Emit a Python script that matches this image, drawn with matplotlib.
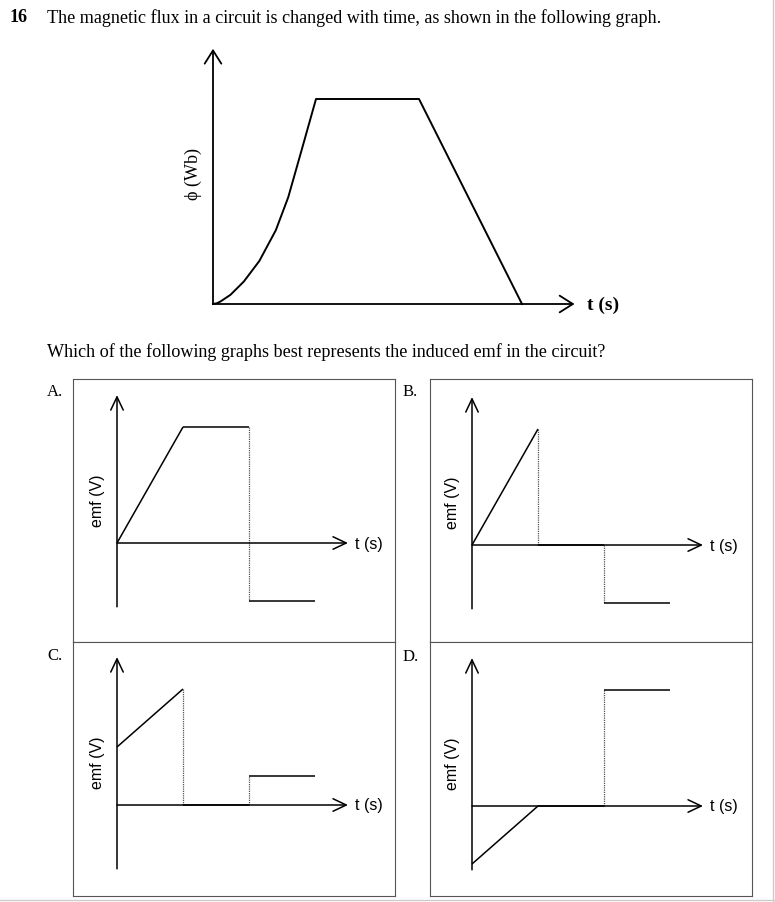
import matplotlib.pyplot as plt
from matplotlib.lines import Line2D

W, H = 775, 903

# flux curve (t in s, phi in units of the plateau)
flux_t = [0, 0.04, 0.075, 0.17, 0.30, 0.45, 0.61, 0.73, 0.86, 1.0, 2.0, 3.0]
flux_phi = [0, 0.004, 0.013, 0.045, 0.11, 0.21, 0.36, 0.52, 0.75, 1.0, 1.0, 0]

# emf options (vertical jumps are drawn dotted)
a_t = [0, 1, 2, 2, 3]
a_emf = [0, 2, 2, -1, -1]
b_t = [0, 1, 1, 2, 2, 3]
b_emf = [0, 2, 0, 0, -1, -1]
c_t = [0, 1, 1, 2, 2, 3]
c_emf = [1, 2, 0, 0, 0.5, 0.5]
d_t = [0, 1, 2, 2, 3]
d_emf = [-1, 0, 0, 2, 2]

option_labels = ['A.', 'B.', 'C.', 'D.']
option_data = [(a_t, a_emf), (b_t, b_emf), (c_t, c_emf), (d_t, d_emf)]

title_text = 'The magnetic flux in a circuit is changed with time, as shown in the following graph.'
question_text = 'Which of the following graphs best represents the induced emf in the circuit?'

# layout in pixels: box (left, top, right, bottom), origin, label position
boxes = [(73, 380, 395, 643), (430, 380, 752, 643), (73, 643, 395, 897), (430, 643, 752, 897)]
origins = [(117, 544), (472, 546), (117, 806), (472, 807)]
label_pos = [(47, 392), (403, 392), (47, 656), (403, 657)]
UNIT = (66, 58)

SERIF = ['Liberation Serif', 'DejaVu Serif']
SANS = ['Liberation Sans', 'DejaVu Sans']


def px_axes(fig, box, origin, unit):
    left, top, right, bottom = box
    ax = fig.add_axes([left / W, 1 - bottom / H, (right - left) / W, (bottom - top) / H])
    ox, oy = origin
    ux, uy = unit
    ax.set_xlim((left - ox) / ux, (right - ox) / ux)
    ax.set_ylim((oy - bottom) / uy, (oy - top) / uy)
    ax.set_xticks([])
    ax.set_yticks([])
    return ax


def arrow(ax, start, end, hl, hw, lw=1.1):
    ax.annotate('', xy=end, xytext=start,
                arrowprops=dict(arrowstyle=f'->,head_length={hl},head_width={hw}',
                                lw=lw, color='black', shrinkA=0, shrinkB=0,
                                mutation_scale=10),
                annotation_clip=False)


def draw_emf(ax, t, emf):
    for i in range(len(t) - 1):
        if t[i] == t[i + 1]:
            ax.plot(t[i:i + 2], emf[i:i + 2], color='#555555', lw=0.9,
                    ls=(0, (1.0, 0.8)))
        else:
            ax.plot(t[i:i + 2], emf[i:i + 2], color='black', lw=1.1,
                    solid_capstyle='butt')


fig = plt.figure(figsize=(W / 100, H / 100), dpi=100)

fig.text(10 / W, 1 - 18 / H, '16', family=SERIF, fontsize=13, fontweight='bold', va='center')
fig.text(47 / W, 1 - 18 / H, title_text, family=SERIF, fontsize=13.1, va='center')
fig.text(47 / W, 1 - 352 / H, question_text, family=SERIF, fontsize=13.1, va='center')

# top graph: flux vs time
ax0 = px_axes(fig, (150, 40, 660, 325), (213, 305), (103, 205))
for s in ax0.spines.values():
    s.set_visible(False)
ax0.patch.set_alpha(0)
ax0.plot(flux_t, flux_phi, color='black', lw=1.4, solid_joinstyle='round')
arrow(ax0, (0, 0), (0, 1.245), 0.95, 0.6, lw=1.3)
arrow(ax0, (0, 0), (3.51, 0), 0.95, 0.6, lw=1.3)
ax0.text(-0.19, 0.64, 'ϕ (Wb)', family=SERIF, fontsize=13, rotation=90,
         ha='center', va='center')
ax0.text(3.63, 0, 't (s)', family=SERIF, fontsize=14, fontweight='bold',
         ha='left', va='center')

# answer panels
for lab, (t, emf), box, org, lp in zip(option_labels, option_data, boxes, origins, label_pos):
    ax = px_axes(fig, box, org, UNIT)
    for s in ax.spines.values():
        s.set_color('#555555')
        s.set_linewidth(0.8)
    arrow(ax, (0, -1.1), (0, 2.55), 0.95, 0.45)
    arrow(ax, (0, 0), (3.5, 0), 0.95, 0.45)
    draw_emf(ax, t, emf)
    ax.text(-0.3, 0.75, 'emf (V)', family=SANS, fontsize=11.5, rotation=90,
            ha='center', va='center')
    ax.text(3.6, 0, 't (s)', family=SANS, fontsize=11.5, ha='left', va='center')
    fig.text(lp[0] / W, 1 - lp[1] / H, lab, family=SERIF, fontsize=12, va='center')

# faint page edges
fig.add_artist(Line2D([773 / W, 773 / W], [0, 1], color='#cccccc', lw=1))
fig.add_artist(Line2D([0, 1], [1 - 901 / H, 1 - 901 / H], color='#cccccc', lw=1))

fig.savefig('out.png', dpi=100)
